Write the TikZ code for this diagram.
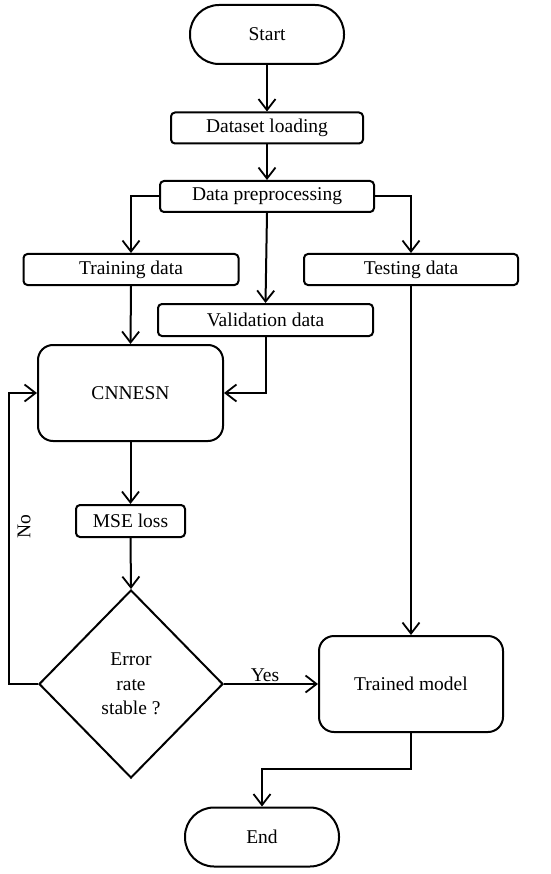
\documentclass[tikz,border=0pt]{standalone}
\usepackage{fontspec}
\setmainfont{Liberation Serif}
\usetikzlibrary{arrows.meta,shapes.geometric}
\begin{document}
\begin{tikzpicture}[x=1pt,y=-1pt,
  every node/.style={font=\fontsize{19.5}{24.5}\selectfont, inner sep=0pt, line width=2pt, draw},
  term/.style={rounded corners=29pt, minimum width=154pt, minimum height=59pt},
  smallbox/.style={rounded corners=4pt, minimum height=31pt},
  bigbox/.style={rounded corners=15pt},
  decision/.style={diamond, minimum width=184pt, minimum height=188pt, align=center},
  lbl/.style={draw=none},
  conn/.style={line width=2pt, -{Straight Barb[length=11pt,width=17pt,line width=1.8pt]}},
]
\useasboundingbox (0,0) rectangle (550,874);
\node[term] (start) at (267,34.5) {Start};
\node[smallbox, minimum width=192pt] (dl) at (267,128) {Dataset loading};
\node[smallbox, minimum width=214pt] (dp) at (267,196.5) {Data preprocessing};
\node[smallbox, minimum width=215pt] (train) at (131,269.5) {Training data};
\node[smallbox, minimum width=214pt] (test) at (411,269.5) {Testing data};
\node[smallbox, minimum width=215pt, minimum height=32pt] (val) at (265.5,320) {Validation data};
\node[bigbox, minimum width=185pt, minimum height=96pt] (cnn) at (130.5,393) {CNNESN};
\node[smallbox, minimum width=109pt, minimum height=32pt] (mse) at (130.5,521) {MSE loss};
\node[decision] (dia) at (131,684) {Error\\rate\\stable ?};
\node[bigbox, minimum width=184pt, minimum height=96pt] (tm) at (411,684) {Trained model};
\node[term] (end) at (262,837) {End};

\coordinate (nofb) at (9,684);
\coordinate (tmturn) at (411,769);

\draw[conn] (start) -- (dl);
\draw[conn] (dl) -- (dp);
\draw[conn] (dp.west) -| (train.north);
\draw[conn] (dp.east) -| (test.north);
\draw[conn] (dp.south) -- (val.north);
\draw[conn] (train.south) -- (cnn.north);
\draw[conn] (val.south) |- (cnn.east);
\draw[conn] (cnn.south) -- (mse.north);
\draw[conn] (mse.south) -- (dia.north);
\draw[conn] (dia.west) -- (nofb) |- (cnn.west);
\node[lbl, rotate=90] (no) at (24,527) {No};
\draw[conn] (dia.east) -- (tm.west);
\node[lbl] (yes) at (265,675) {Yes};
\draw[conn] (test.south) -- (tm.north);
\draw[conn] (tm.south) -- (tmturn) -| (end.north);
\end{tikzpicture}
\end{document}
